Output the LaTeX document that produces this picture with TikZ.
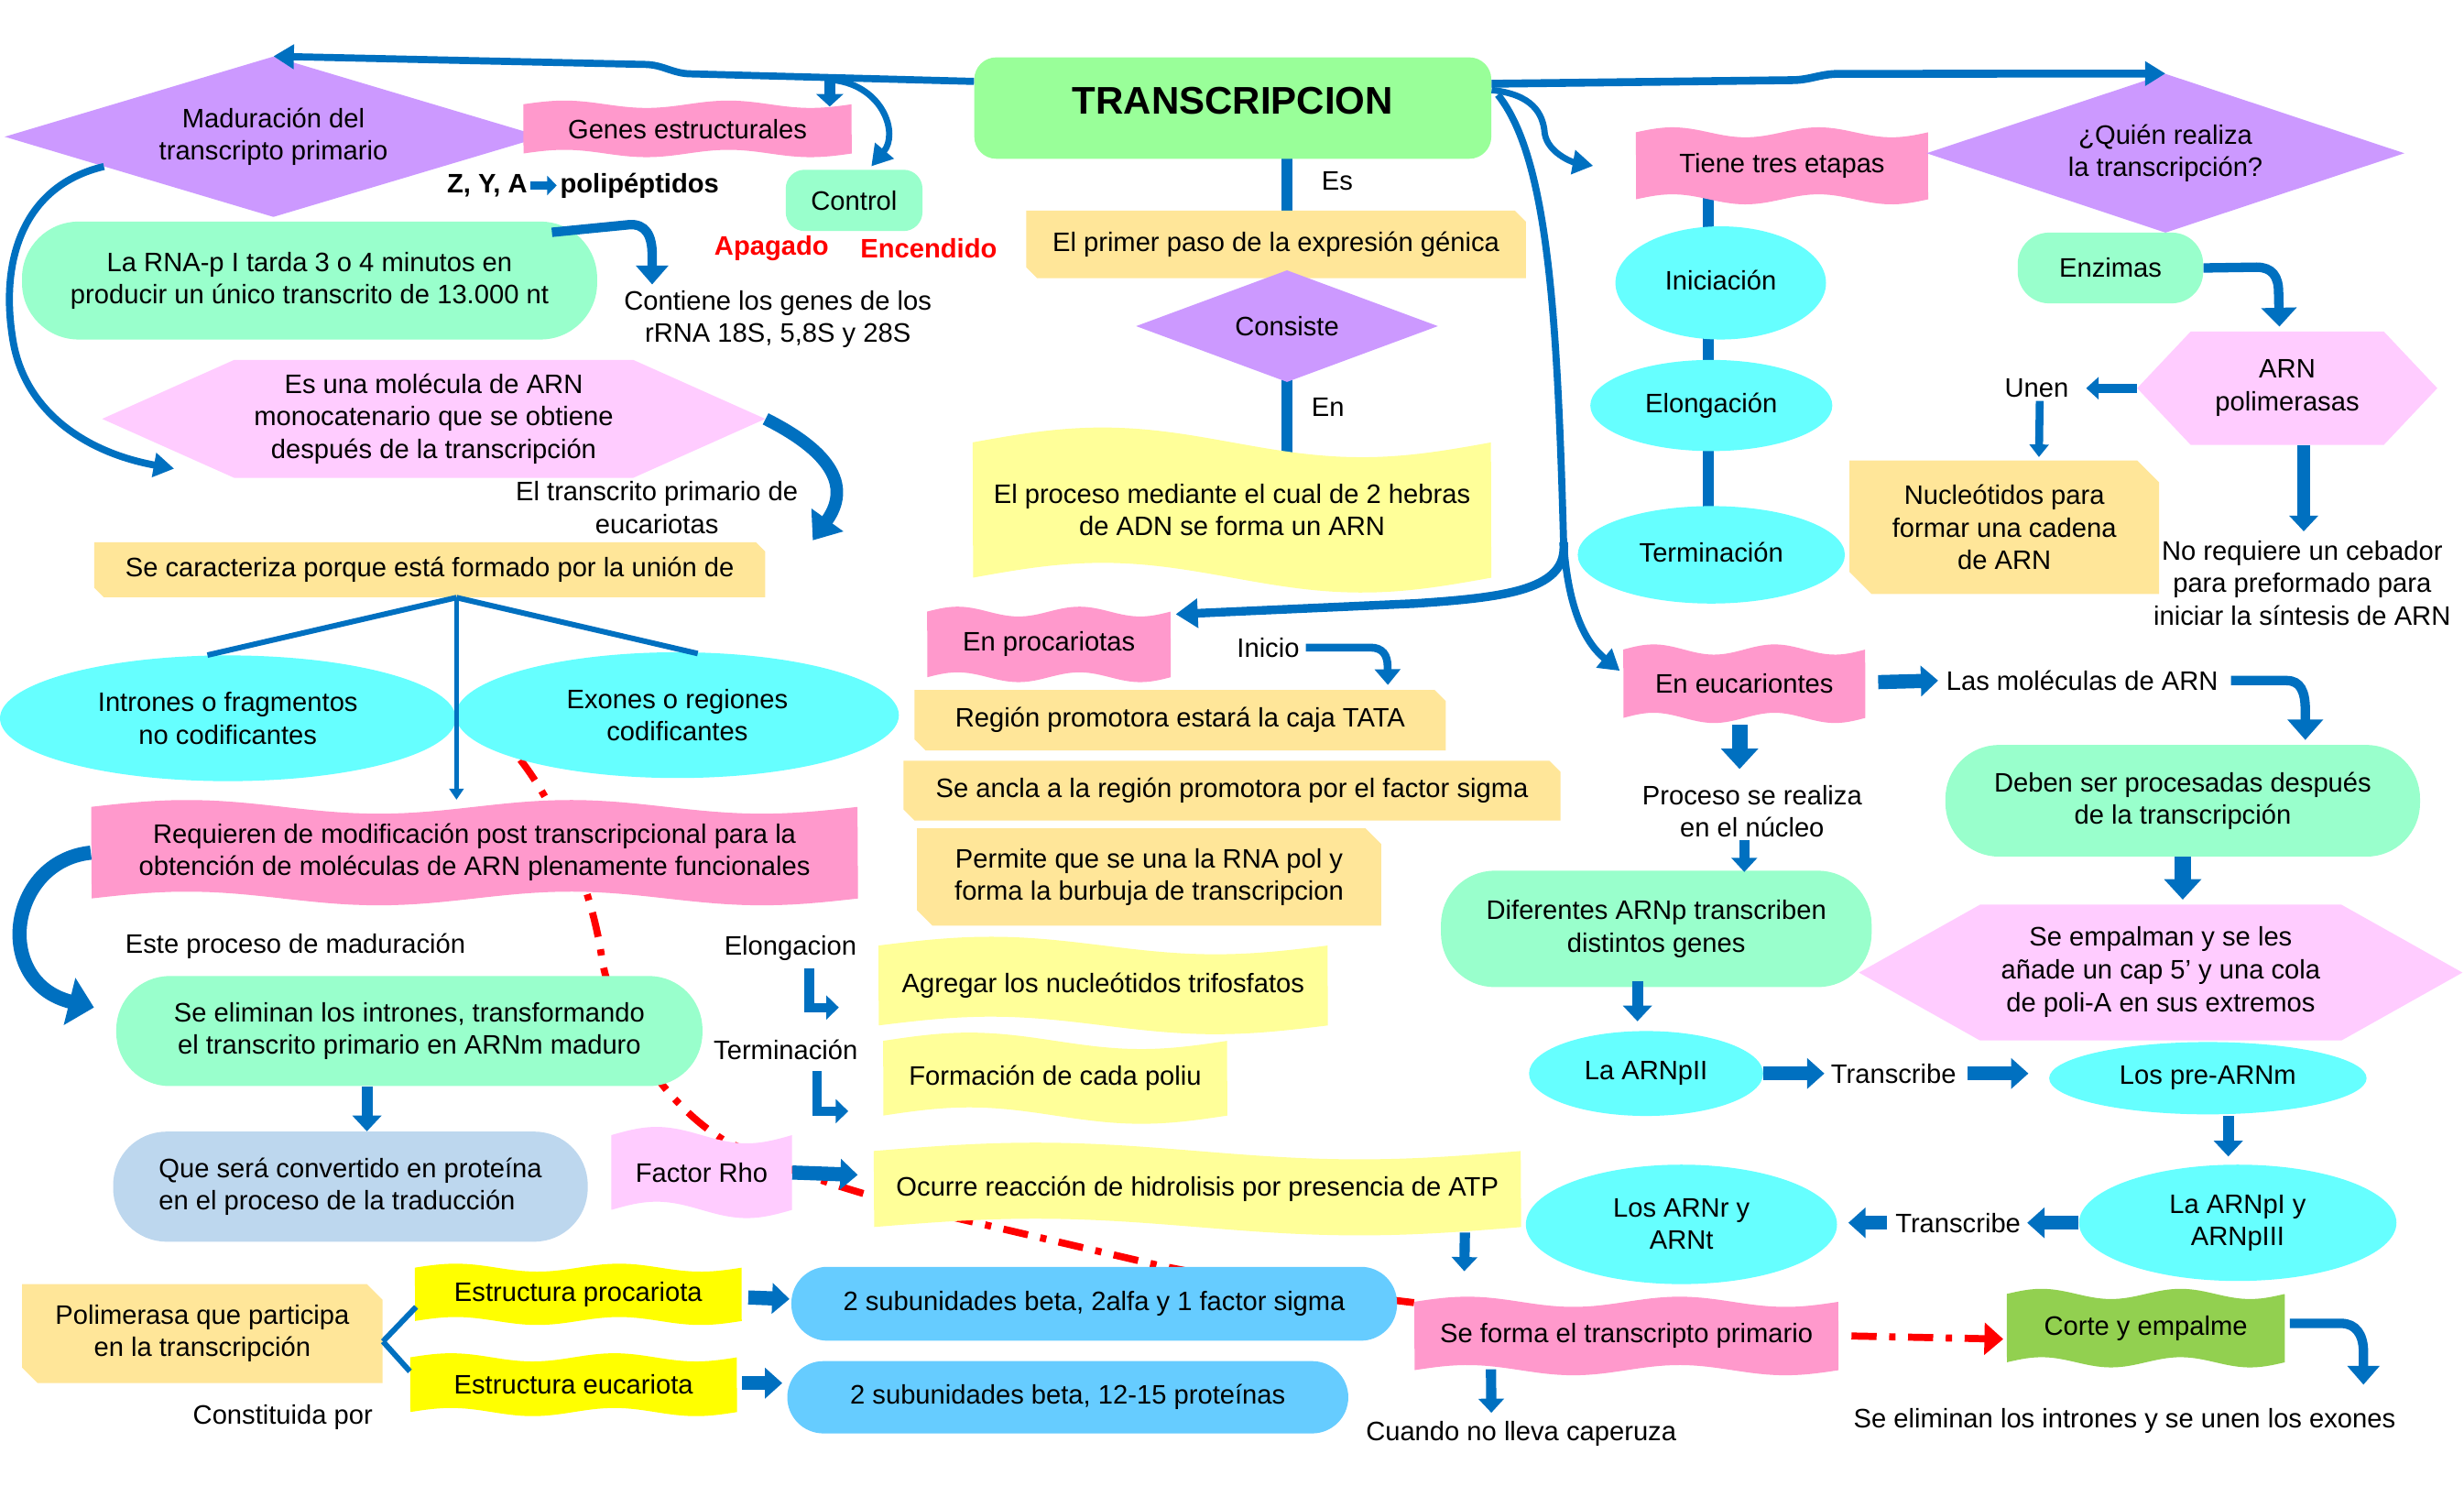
\documentclass[tikz,border=0pt]{standalone}
\usepackage{fontspec}
\setmainfont{Liberation Sans}
\usetikzlibrary{calc,arrows.meta,shapes.geometric}
\pgfdeclarelayer{behind}
\pgfsetlayers{behind,main}
\definecolor{cblue}{HTML}{0070C0}
\definecolor{cgreen}{HTML}{99FF99}
\definecolor{cpink}{HTML}{FF99CC}
\definecolor{clilac}{HTML}{FFCCFF}
\definecolor{cpurple}{HTML}{CC99FF}
\definecolor{cmint}{HTML}{99FFCC}
\definecolor{csnip}{HTML}{FFE699}
\definecolor{clyel}{HTML}{FFFF99}
\definecolor{cyel}{HTML}{FFFF00}
\definecolor{ccyan}{HTML}{66FFFF}
\definecolor{cltblue}{HTML}{66CCFF}
\definecolor{cgray}{HTML}{BDD7EE}
\definecolor{clime}{HTML}{92D050}
\tikzset{
 txt/.style={inner sep=0pt,align=center,font=\fontsize{17}{20.5}\selectfont},
 bold/.style={txt,font=\fontsize{17}{20.5}\selectfont\bfseries},
 redb/.style={bold,text=red},
 carr/.style={draw=cblue,line width=4.5pt,-{Triangle[length=13pt,width=15pt]}},
 barr/.style={draw=cblue,line width=9pt,-{Triangle[length=11pt,width=19pt]}},
 darr/.style={draw=cblue,line width=10pt,-{Triangle[length=13pt,width=23pt]}},
 sarr/.style={draw=cblue,line width=6.5pt,-{Triangle[length=9pt,width=16pt]}},
 larr/.style={draw=cblue,line width=6pt,line join=miter,-{Triangle[length=8pt,width=15pt]}},
 vline/.style={draw=cblue,line width=6.5pt},
 tline/.style={draw=cblue,line width=3.5pt},
 tarr/.style={draw=cblue,line width=2.5pt,-{Triangle[length=7pt,width=9pt]}},
 reddash/.style={draw=red,line width=4.5pt,dash pattern=on 16pt off 8pt on 4pt off 8pt},
}
% waves: #1 number of waves, #2 name, #3-#6 box, #7 colour, #8 text
\newcommand\mywave[8]{%
  \pgfmathsetmacro\wa{(#1==1?0.09:0.065)*(#6-#4)}%
  \fill[#7] plot[domain=0:1,samples=60] ({#3+(#5-#3)*\x},{#4+\wa-\wa*sin(360*#1*\x)})
     -- plot[domain=1:0,samples=60] ({#3+(#5-#3)*\x},{#6-\wa-\wa*sin(360*#1*\x)}) -- cycle;
  \node[txt,minimum width={(#5-#3)*1pt},minimum height={(#6-#4)*1pt}] (#2) at ({(#3+#5)/2},{(#4+#6)/2}) {#8};%
}
\newcommand\mysnip[7]{%
  \fill[csnip] (#2,#3) -- ({#4-#6},#3) -- (#4,{#3+#6}) -- (#4,#5) -- ({#2+#6},#5) -- (#2,{#5-#6}) -- cycle;
  \node[txt,minimum width={(#4-#2)*1pt},minimum height={(#5-#3)*1pt}] (#1) at ({(#2+#4)/2},{(#3+#5)/2}) {#7};%
}
\newcommand\mydiam[7]{%
  \fill[#6] (#2,{(#3+#5)/2}) -- ({(#2+#4)/2},#3) -- (#4,{(#3+#5)/2}) -- ({(#2+#4)/2},#5) -- cycle;
  \node[txt,minimum width={(#4-#2)*1pt},minimum height={(#5-#3)*1pt}] (#1) at ({(#2+#4)/2},{(#3+#5)/2}) {#7};%
}
\newcommand\myhexa[7]{%
  \fill[clilac] (#2,{(#3+#5)/2}) -- ({#2+#6},#3) -- ({#4-#6},#3) -- (#4,{(#3+#5)/2}) -- ({#4-#6},#5) -- ({#2+#6},#5) -- cycle;
  \node[txt,minimum width={(#4-#2)*1pt},minimum height={(#5-#3)*1pt}] (#1) at ({(#2+#4)/2},{(#3+#5)/2}) {#7};%
}
\newcommand\myrbox[8]{%
  \node[txt,fill=#6,rounded corners=#7pt,minimum width={(#4-#2)*1pt},minimum height={(#5-#3)*1pt}] (#1) at ({(#2+#4)/2},{(#3+#5)/2}) {#8};%
}
\newcommand\myell[6]{%
  \node[txt,ellipse,fill=ccyan,minimum width={2*#4*1pt},minimum height={2*#5*1pt}] (#1) at (#2,#3) {#6};%
}
\begin{document}
\begin{tikzpicture}[x=1pt,y=-1pt]
\useasboundingbox (0,0) rectangle (1568,952);
\begin{pgfonlayer}{behind}\fill[white] (0,0) rectangle (1568,952);\end{pgfonlayer}

% ---------- shapes ----------
\mydiam{madur}{3}{36}{345}{138}{cpurple}{Maduración del\\transcripto primario}
\mywave{2}{genes}{333}{64}{542}{100}{cpink}{Genes estructurales}
\myrbox{trans}{620}{36.5}{949}{101}{cgreen}{14}{\raisebox{10pt}{\fontsize{24.5}{28}\selectfont\bfseries TRANSCRIPCION}}
\myrbox{control}{500}{108}{587}{147}{cmint}{12}{\raisebox{-2pt}{Control}}
\myrbox{rnap}{14}{141}{380}{216}{cmint}{36}{La RNA-p I tarda 3 o 4 minutos en\\producir un único transcrito de 13.000 nt}
\myhexa{hexa}{65}{229}{487}{304}{84}{Es una molécula de ARN\\monocatenario que se obtiene\\después de la transcripción}
\mysnip{caract}{60}{345}{487}{380}{6}{Se caracteriza porque está formado por la unión de}
\myell{intr}{145}{457}{145}{40}{Intrones o fragmentos\\no codificantes}
\myell{exon}{431}{455}{141}{40}{Exones o regiones\\codificantes}
\mywave{2}{req}{58}{509}{546}{576}{cpink}{Requieren de modificación post transcripcional para la\\obtención de moléculas de ARN plenamente funcionales}
\myrbox{elim}{74}{621}{447}{691}{cmint}{34}{Se eliminan los intrones, transformando\\el transcrito primario en ARNm maduro}
\node[txt,align=left,fill=cgray,rounded corners=34pt,minimum width=302pt,minimum height=70pt] (quesera) at (223,755) {Que será convertido en proteína\\en el proceso de la traducción};
\mywave{1}{rho}{389}{717}{504}{775}{clilac}{Factor Rho}
\mywave{1}{agregar}{559}{596}{845}{658}{clyel}{Agregar los nucleótidos trifosfatos}
\mywave{1}{formacion}{562}{657}{781}{715}{clyel}{Formación de cada poliu}
\mywave{1}{ocurre}{556}{727}{968}{786}{clyel}{Ocurre reacción de hidrolisis por presencia de ATP}
\mysnip{poli}{14}{817}{243.5}{880}{10}{Polimerasa que participa\\en la transcripción}
\mywave{2}{estp}{264}{804}{472}{843}{cyel}{Estructura procariota}
\mywave{2}{estu}{261}{861}{469}{901}{cyel}{Estructura eucariota}
\myrbox{sub1}{503.6}{806}{889}{853}{cltblue}{23}{2 subunidades beta, 2alfa y 1 factor sigma}
\myrbox{sub2}{501}{866}{858}{912}{cltblue}{23}{2 subunidades beta, 12-15 proteínas}

\mysnip{primer}{653}{134}{971}{177}{7}{El primer paso de la expresión génica}
\mydiam{consiste}{723}{172}{915}{243}{cpurple}{Consiste}
\mywave{1}{mediante}{619}{272}{949}{377}{clyel}{El proceso mediante el cual de 2 hebras\\de ADN se forma un ARN}
\mywave{2}{proc}{590}{386}{745}{434}{cpink}{En procariotas}
\mysnip{region}{582}{439}{920}{477.5}{7}{Región promotora estará la caja TATA}
\mysnip{seancla}{575}{484}{993}{522}{7}{Se ancla a la región promotora por el factor sigma}
\mysnip{permite}{583.5}{527}{879}{589}{10}{Permite que se una la RNA pol y\\forma la burbuja de transcripcion}

\mywave{2}{tiene}{1041}{81}{1227}{130}{cpink}{Tiene tres etapas}
\myell{inic}{1095}{180}{67}{36}{\raisebox{4pt}{Iniciación}}
\myell{elong}{1089}{258}{77}{29}{Elongación}
\myell{term}{1089}{353}{85}{31}{\raisebox{3pt}{Terminación}}
\mydiam{quien}{1226}{47}{1530}{148}{cpurple}{¿Quién realiza\\la transcripción?}
\myrbox{enz}{1284}{148}{1402}{193}{cmint}{20}{Enzimas}
\myhexa{arn}{1360}{211}{1551}{283}{34}{\raisebox{5pt}{\begin{tabular}{@{}c@{}}ARN\\[0.5pt]polimerasas\end{tabular}}}
\mysnip{nucle}{1177}{293}{1374}{378}{14}{Nucleótidos para\\formar una cadena\\de ARN}
\mywave{2}{euc}{1033}{410}{1187}{460}{cpink}{En eucariontes}
\myrbox{deben}{1238}{474}{1540}{545}{cmint}{34}{Deben ser procesadas después\\de la transcripción}
\myhexa{empal}{1183}{575.6}{1567}{662}{77}{\raisebox{4pt}{\begin{tabular}{@{}c@{}}Se empalman y se les\\[0.5pt]añade un cap 5’ y una cola\\[0.5pt]de poli-A en sus extremos\end{tabular}}}
\myrbox{dif}{917}{554}{1191}{628}{cmint}{34}{Diferentes ARNp transcriben\\distintos genes}
\myell{arnp2}{1047.5}{683}{74.5}{27}{La ARNpII}
\myell{pre}{1405}{686}{101}{23}{Los pre-ARNm}
\myell{arnp1}{1424}{778}{101}{37}{La ARNpI y\\ARNpIII}
\myell{arnrt}{1070}{779}{99}{38}{Los ARNr y\\ARNt}
\mywave{2}{seforma}{900}{825}{1170}{875}{cpink}{Se forma el transcripto primario}
\mywave{2}{corte}{1277}{820}{1454}{870}{clime}{Corte y empalme}

% ---------- plain labels ----------
\node[txt] (es) at (851,115) {Es};
\node[txt] (en) at (845,259) {En};
\node[bold] (zya) at (310,118) {Z, Y, A};
\node[bold] (polip) at (407,118) {polipéptidos};
\node[redb] (apagado) at (491,158) {Apagado};
\node[redb] (encendido) at (591,158) {Encendido};
\node[txt] (contiene) at (495,203) {Contiene los genes de los\\rRNA 18S, 5,8S y 28S};
\node[txt] (eltrans) at (418,323) {El transcrito primario de\\eucariotas};
\node[txt] (estetxt) at (188,602) {Este proceso de maduración};
\node[txt] (elongtxt) at (503,603) {Elongacion};
\node[txt] (termtxt) at (500,668) {Terminación};
\node[txt] (constituida) at (180,902) {Constituida por};
\node[txt] (inicio) at (807,412) {Inicio};
\node[txt] (cuando) at (968,912) {Cuando no lleva caperuza};
\node[txt] (unen) at (1296,247) {Unen};
\node[txt] (noreq) at (1465,371) {No requiere un cebador\\para preformado para\\iniciar la síntesis de ARN};
\node[txt] (lasmol) at (1325,433) {Las moléculas de ARN};
\node[txt] (proceso) at (1115,516) {Proceso se realiza\\en el núcleo};
\node[txt] (transc1) at (1205,683) {Transcribe};
\node[txt] (transc2) at (1246,778) {Transcribe};
\node[txt] (seelim) at (1352,904) {Se eliminan los intrones y se unen los exones};

% ---------- connectors behind ----------
\coordinate (vx) at (1087,0);
\begin{pgfonlayer}{behind}
\draw[vline] (trans.center -| consiste.north) -- (primer.center -| consiste.north);
\draw[vline] (consiste.center) -- (consiste.center |- mediante.center);
\draw[vline,line width=7pt] (tiene.center -| vx) -- (term.center -| vx);
\draw[reddash] (exon.south west) .. controls (358,518) and (378,572) .. (383,610)
   .. controls (390,650) and (420,700) .. (460,725) .. controls (500,745) and (540,758) .. (600,773)
   -- (737,805) .. controls (800,818) and (860,824) .. ($(seforma.north west)+(0,4)$);
\end{pgfonlayer}

% ---------- connectors ----------
\coordinate (j1) at (528,50);
\draw[carr,line width=4.5pt] ($(trans.north west)+(0,15.5)$) -- (440,47) to[out=180,in=0] (410,41) -- (madur.north);
\draw[sarr,line width=7pt,-{Triangle[length=8pt,width=17pt]}] (j1) -- ($(j1 |- genes.north)+(0,4)$);
\draw[carr,line width=4pt] (531,51) .. controls (562,55) and (572,85) .. ($(control.north)+(11,-2)$);
\draw[carr,line width=5pt] ($(trans.north east)+(0,17)$) -- (1140,51) to[out=0,in=180] (1170,47) -- (quien.north);
\draw[carr,line width=4pt] ($(trans.north east)+(0,21)$) .. controls (975,60) and (982,72) .. (983,85)
   .. controls (985,97) and (1000,103) .. ($(tiene.west)+(-27,0)$);
\coordinate (br) at (995,345);
\draw[carr,line width=4.5pt] ($(trans.north east)+(4,24)$) .. controls (985,100) and (991,200) .. (br)
   .. controls (998,390) and (1010,410) .. ($(euc.north west)+(-2,17)$);
\draw[carr,line width=5.5pt,-{Triangle[length=14pt,width=18pt]}] (br) .. controls (998,375) and (960,380) .. (900,384) -- ($(proc.north east)+(3,5)$);

\draw[carr,line width=4.5pt] ($(madur.west)!0.37!(madur.south)$) .. controls (15,118) and (0,165) .. (8,215)
   .. controls (15,262) and (55,288) .. ($(hexa.south west)+(46,-6)$);
\draw[carr,line width=8pt,-{Triangle[length=16pt,width=24pt]}] (hexa.east) .. controls (520,283) and (545,305) .. ($(caract.north east)+(30,-1)$);
\coordinate (ct) at (415,181);
\draw[carr,line width=6pt,-{Triangle[length=12pt,width=20pt]}] ($(rnap.north east)+(-29,7)$) -- (400,143) .. controls (411,142) and (415,150) .. (415,162) -- (ct);
\draw[cblue,line width=5pt,-{Triangle[length=6pt,width=12pt]}] ($(zya.east)+(2,0)$) -- ($(polip.west)+(-2,0)$);

\coordinate (cs) at ($(caract.south)+(17,0)$);
\draw[tline] (cs) -- ($(intr.north)+(-13,0)$);
\draw[tline] (cs) -- ($(exon.north)+(13,1)$);
\draw[tarr] (cs) -- (cs |- req.north);
\draw[carr,line width=9pt,-{Triangle[length=16pt,width=30pt]}] (req.west) .. controls (5,548) and (-5,625) .. ($(elim.west)+(-14,-15)$);
\coordinate (q1) at ($(elim.south)+(-27,0)$);
\draw[sarr,line width=7pt,-{Triangle[length=10pt,width=18pt]}] (q1) -- (q1 |- quesera.north);
\draw[larr] ($(elongtxt.south)+(12,5)$) |- ($(agregar.west)+(-25,14)$);
\draw[larr] ($(termtxt.south)+(20,7)$) |- ($(formacion.west)+(-22,21)$);
\draw[barr] (rho.east) -- ($(ocurre.west)+(-10,-9)$);
\draw[sarr] ($(ocurre.south east)+(-36,-2)$) -- ($(seforma.north west)+(32,-16)$);
\draw[sarr] ($(seforma.south west)+(49,-4)$) -- ($(cuando.north west)+(80,-5)$);
\draw[reddash,-{Triangle[length=12pt,width=20pt]}] ($(seforma.east)+(8,0)$) -- ($(corte.west)+(-2,7)$);
\coordinate (ce) at (1504,881);
\draw[carr,line width=6pt,-{Triangle[length=12pt,width=20pt]}] ($(corte.east)+(3,-3)$) -- (1490,842) .. controls (1499,842) and (1504,849) .. (1504,860) -- (ce);

\coordinate (pj) at ($(poli.east)+(0,5)$);
\draw[tline] (pj) -- ($(estp.west)+(1,8)$);
\draw[tline] (pj) -- ($(estu.west)+(0,-8.5)$);
\draw[barr] ($(estp.east)+(4,2)$) -- ($(sub1.west)+(-1,-3)$);
\draw[barr] ($(estu.east)+(3,-1)$) -- ($(sub2.west)+(-3,-9)$);

\draw[carr,line width=5pt,-{Triangle[length=10pt,width=16pt]}] ($(inicio.east)+(4,0)$) -- (872,412) .. controls (880,412) and (883,417) .. (883,424) -- ($(region.north east)+(-37,-3)$);

\draw[carr,line width=6pt,-{Triangle[length=12pt,width=22pt]}] (enz.east) -- (1436,170) .. controls (1446,170) and (1450,176) .. (1450,186) -- ($(arn.north)+(-5,-3)$);
\draw[sarr,line width=6pt,-{Triangle[length=8pt,width=14pt]}] (arn.west) -- ($(unen.east)+(11,0)$);
\draw[sarr,line width=5pt,-{Triangle[length=8pt,width=12pt]}] ($(unen.south)+(2,2)$) -- ($(nucle.north)+(22,-2)$);
\draw[sarr,line width=8.5pt,-{Triangle[length=10pt,width=18pt]}] ($(arn.south)+(10.5,0)$) -- ($(noreq.north)+(1,-6)$);

\draw[barr] ($(euc.east)+(8,-1)$) -- ($(lasmol.west)+(-5,0)$);
\draw[carr,line width=6pt,-{Triangle[length=13pt,width=22pt]}] ($(lasmol.east)+(8,0)$) -- (1455,433) .. controls (1464,433) and (1467,440) .. (1467,452) -- ($(deben.north)+(78,-3)$);
\draw[darr] ($(euc.south)+(-3,1)$) -- ($(proceso.north)+(-8,-10)$);
\draw[sarr] ($(proceso.south)+(-5,2)$) -- ($(dif.north)+(56,1)$);
\draw[sarr,line width=7pt,-{Triangle[length=10pt,width=18pt]}] ($(dif.south)+(-12,-4)$) -- ($(arnp2.north)+(-5.5,-6)$);
\draw[barr] (arnp2.east) -- ($(transc1.west)+(-4,0)$);
\draw[barr] ($(transc1.east)+(7,0)$) -- ($(pre.west)+(-13,-3)$);
\draw[sarr,line width=7pt,-{Triangle[length=10pt,width=18pt]}] ($(pre.south)+(13,1)$) -- ($(arnp1.north)+(-6,-5)$);
\draw[barr] (arnp1.west) -- ($(transc2.east)+(4,0)$);
\draw[barr] ($(transc2.west)+(-5,0)$) -- ($(arnrt.east)+(7,-1)$);
\draw[darr] (deben.south) -- ($(deben.south |- empal.north)+(0,-3)$);
\end{tikzpicture}
\end{document}
